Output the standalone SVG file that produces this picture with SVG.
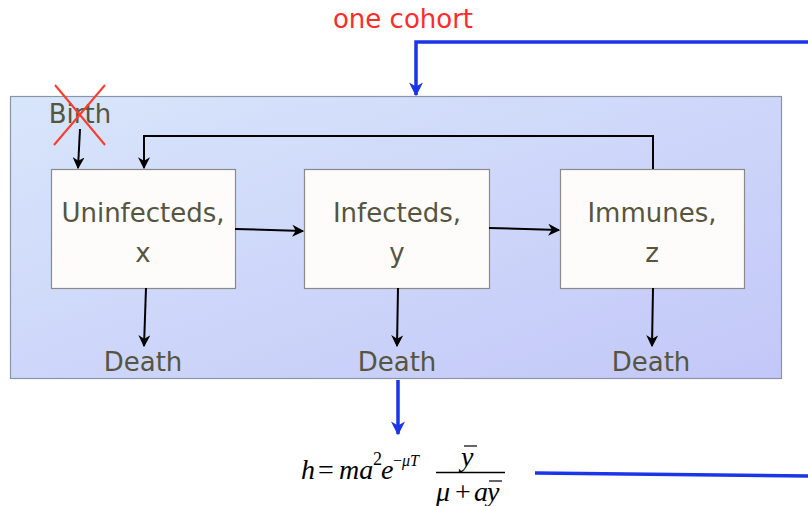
<svg xmlns="http://www.w3.org/2000/svg" width="808" height="506" viewBox="0 0 808 506">
<defs>
<linearGradient id="bg" x1="0" y1="0" x2="1" y2="1">
<stop offset="0" stop-color="#d8e6fb"/>
<stop offset="1" stop-color="#c3c7f8"/>
</linearGradient>
<marker id="ak" viewBox="0 0 10 10" refX="9" refY="5" markerWidth="6" markerHeight="6" orient="auto"><path d="M0,0 L10,5 L0,10 L3,5 z" fill="#000"/></marker>
<marker id="ab" viewBox="0 0 10 10" refX="9" refY="5" markerWidth="4" markerHeight="4" orient="auto"><path d="M0,0 L10,5 L0,10 L3,5 z" fill="#1a36e8"/></marker>
</defs>
<style>
.lbl{font-family:"Comic Sans MS","DejaVu Sans","Liberation Sans",sans-serif;font-size:26px;fill:#56553f;text-anchor:middle}
.box{fill:#fdfcfa;stroke:#8a8a8a;stroke-width:1.2}
.k{stroke:#000;stroke-width:2;fill:none}
.b{stroke:#1a36e8;stroke-width:3.5;fill:none}
.m{font-family:"Liberation Serif","Times New Roman",serif;font-style:italic;font-size:28px;fill:#000}
.r{font-family:"Liberation Serif","Times New Roman",serif;font-size:28px;fill:#000}
</style>
<text x="403" y="28" class="lbl" style="fill:#ff2a2a">one cohort</text>
<rect id="cohort" x="10.5" y="96.5" width="771" height="282" fill="url(#bg)" stroke="#8a94a8" stroke-width="1.2"/>
<g id="birth">
<text x="80" y="123" class="lbl">Birth</text>
<line x1="55" y1="85" x2="105" y2="145" stroke="#ff3a2a" stroke-width="2"/>
<line x1="105" y1="85" x2="54" y2="145" stroke="#ff3a2a" stroke-width="2"/>
</g>
<g id="uninfected"><rect class="box" x="51.5" y="169.5" width="184" height="119"/><text x="143" y="222" class="lbl">Uninfecteds,</text><text x="143" y="262" class="lbl">x</text></g>
<g id="infected"><rect class="box" x="304.5" y="169.5" width="185" height="119"/><text x="397" y="222" class="lbl">Infecteds,</text><text x="397" y="262" class="lbl">y</text></g>
<g id="immune"><rect class="box" x="560.5" y="169.5" width="184" height="119"/><text x="652" y="222" class="lbl">Immunes,</text><text x="652" y="262" class="lbl">z</text></g>
<g id="deaths">
<text x="143" y="371" class="lbl">Death</text>
<text x="397" y="371" class="lbl">Death</text>
<text x="651" y="371" class="lbl">Death</text>
</g>
<g id="formula">
<text x="301" y="479" class="m">h</text>
<text x="318" y="479" class="r">=</text>
<text x="339" y="479" class="m">ma</text>
<text x="373" y="465" style="font-family:'Liberation Serif',serif;font-size:18px">2</text>
<text x="381" y="479" class="m">e</text>
<text x="393" y="466" style="font-family:'Liberation Serif',serif;font-size:16px">−<tspan font-style="italic">μT</tspan></text>
<text x="461" y="466" class="m">y</text>
<line x1="464" y1="446" x2="477" y2="446" stroke="#000" stroke-width="1.2"/>
<line x1="436" y1="472.5" x2="505" y2="472.5" stroke="#000" stroke-width="1.3"/>
<text x="436" y="501" class="m">μ</text>
<text x="455" y="501" class="r">+</text>
<text x="474" y="501" class="m">a</text>
<text x="487" y="501" class="m">y</text>
<line x1="489" y1="481" x2="502" y2="481" stroke="#000" stroke-width="1.2"/>
</g>
<g id="connectors">
<line class="k" x1="80" y1="129" x2="78" y2="168" marker-end="url(#ak)"/>
<polyline class="k" points="653,169 653,136 144,136 144,168" marker-end="url(#ak)"/>
<line class="k" x1="235" y1="229" x2="303" y2="231" marker-end="url(#ak)"/>
<line class="k" x1="489" y1="228" x2="559" y2="230" marker-end="url(#ak)"/>
<line class="k" x1="146" y1="288" x2="144" y2="346" marker-end="url(#ak)"/>
<line class="k" x1="398" y1="288" x2="397" y2="346" marker-end="url(#ak)"/>
<line class="k" x1="653" y1="288" x2="652" y2="346" marker-end="url(#ak)"/>
<polyline class="b" points="808,42 416,42 416,95" marker-end="url(#ab)"/>
<line class="b" x1="398" y1="380" x2="398" y2="434" marker-end="url(#ab)"/>
<line class="b" x1="535" y1="473" x2="808" y2="476"/>
</g>
</svg>
